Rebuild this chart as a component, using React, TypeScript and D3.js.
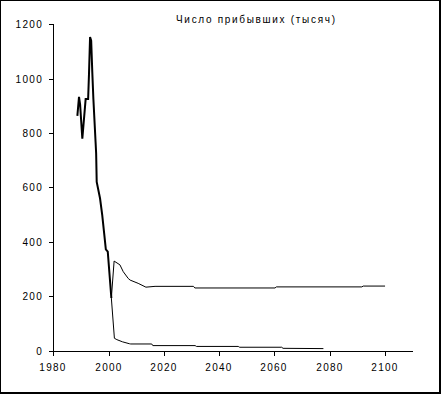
import React from "react";
import * as d3 from "d3";

const title = "Число прибывших (тысяч)";

// Historical series (thick line)
const histYears = [1988.7, 1989.3, 1989.7, 1990.5, 1991.7, 1992.6, 1992.9, 1993.3, 1993.7, 1994.1, 1994.5, 1995.3, 1995.5, 1995.7, 1996.9, 1997.7, 1998.4, 1999.0, 1999.7, 2001.0];
const histValues = [863, 933, 905, 779, 925, 925, 1014, 1153, 1140, 1025, 925, 765, 725, 620, 560, 498, 431, 372, 364, 193];

// Forecast, upper variant
const upperYears = [2001.0, 2002.0, 2004.1, 2005.3, 2007.1, 2007.8, 2010.7, 2013.5, 2016.8, 2030.7, 2031.2, 2060.2, 2060.7, 2091.6, 2092.1, 2100];
const upperValues = [193, 329, 315, 290, 265, 259, 247, 233, 236, 236, 230, 230, 234, 234, 237, 237];

// Forecast, lower variant
const lowerYears = [2001.0, 2002.1, 2003.0, 2005.0, 2007.5, 2008.0, 2015.6, 2016.0, 2031.3, 2031.8, 2046.9, 2047.4, 2062.6, 2063.1, 2077.7];
const lowerValues = [193, 45, 40, 32, 25, 24, 24, 18, 18, 15, 15, 12, 12, 8, 7];

const xTicks = [1980, 2000, 2020, 2040, 2060, 2080, 2100];
const yTicks = [0, 200, 400, 600, 800, 1000, 1200];

const W = 442;
const H = 395;

export default function App() {
  const x = d3.scaleLinear().domain([1980, 2110]).range([53.3, 412.7]);
  const y = d3.scaleLinear().domain([0, 1200]).range([350.5, 24.3]);

  const toPts = (xs: number[], vs: number[]) => xs.map((yr, i) => [yr, vs[i]] as [number, number]);
  const line = d3
    .line<[number, number]>()
    .x((d) => x(d[0]))
    .y((d) => y(d[1]));

  const font = "'Liberation Sans', Arial, sans-serif";
  const x0 = 53.5;
  const yAxis0 = Math.round(y(0)) + 0.5;

  return (
    <svg
      width={W}
      height={H}
      style={{ position: "absolute", left: 0, top: 0, background: "#fff" }}
      fontFamily={font}
    >
      <rect x={0} y={0} width={W} height={H} fill="#fff" />
      {/* frame */}
      <g shapeRendering="crispEdges">
        <rect x={0.5} y={0.5} width={440} height={393} fill="none" stroke="#000" strokeWidth={1} />
        <line x1={439.5} y1={0} x2={439.5} y2={394} stroke="#000" strokeWidth={1} />
        <line x1={0} y1={392.5} x2={441} y2={392.5} stroke="#000" strokeWidth={1} />
      </g>

      {/* title */}
      <text x={176} y={23} fontSize={10} textLength={159} lengthAdjust="spacing" fill="#000">
        {title}
      </text>

      {/* y axis */}
      <g shapeRendering="crispEdges">
        <line x1={x0} y1={Math.round(y(1200)) + 0.5} x2={x0} y2={yAxis0} stroke="#000" strokeWidth={1} />
        {yTicks.map((t) => {
          const yy = Math.round(y(t)) + 0.5;
          return <line key={"yt" + t} x1={x0 - 5} y1={yy} x2={x0} y2={yy} stroke="#000" strokeWidth={1} />;
        })}
        <line x1={x0} y1={yAxis0} x2={x(2110)} y2={yAxis0} stroke="#000" strokeWidth={1} />
        {xTicks.map((t) => {
          const xx = Math.round(x(t)) + 0.5;
          return <line key={"xt" + t} x1={xx} y1={yAxis0} x2={xx} y2={yAxis0 + 4} stroke="#000" strokeWidth={1} />;
        })}
      </g>
      {yTicks.map((t) => {
        const yy = Math.round(y(t)) + 0.5;
        return (
          <text key={"yl" + t} x={43} y={yy + 3.5} fontSize={10} textAnchor="end" letterSpacing={1.3} fill="#000">
            {t}
          </text>
        );
      })}
      {xTicks.map((t) => {
        const xx = Math.round(x(t)) + 0.5;
        return (
          <text key={"xl" + t} x={xx - 0.5} y={371} fontSize={10} textAnchor="middle" letterSpacing={1.3} fill="#000">
            {t}
          </text>
        );
      })}

      {/* forecast lines */}
      <path d={line(toPts(upperYears, upperValues)) || ""} fill="none" stroke="#000" strokeWidth={1} />
      <path d={line(toPts(lowerYears, lowerValues)) || ""} fill="none" stroke="#000" strokeWidth={1} />
      {/* historical line */}
      <path d={line(toPts(histYears, histValues)) || ""} fill="none" stroke="#000" strokeWidth={2} strokeLinejoin="miter" />
    </svg>
  );
}
